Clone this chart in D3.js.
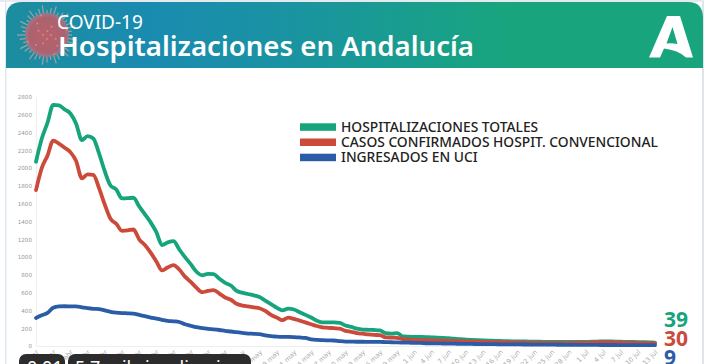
<!DOCTYPE html>
<html lang="es">
<head>
  <meta charset="UTF-8">
  <title>Hospitalizaciones en Andalucía</title>
  <script src="https://cdn.jsdelivr.net/npm/d3@7"></script>
  <style>
    html, body { margin: 0; padding: 0; background: #fff; overflow: hidden; }
    svg { display: block; font-family: "Noto Sans", sans-serif; }
    .tick text { font-family: "DejaVu Sans", sans-serif; }
    .tick line { display: none; }
    .domain { stroke: #efefef; }
  </style>
</head>
<body>
  <script>
    // one value per day, 27 mar to 13 jul
    const totales = [2072,2330,2510,2712,2705,2660,2615,2500,2315,2360,2334,2165,1965,1805,1760,1660,1662,1667,1570,1480,1390,1280,1135,1165,1180,1085,1000,920,835,795,812,808,755,710,680,620,600,585,570,550,510,470,430,400,420,410,380,350,320,285,265,265,265,260,230,215,195,185,182,180,175,145,140,145,108,105,103,102,100,97,95,92,88,82,76,72,68,65,62,60,58,56,54,53,52,51,50,49,48,47,46,46,45,45,46,46,47,48,50,52,51,50,48,47,46,44,43,41,39];
    const convencional = [1753,2000,2140,2310,2275,2230,2180,2080,1885,1930,1925,1775,1590,1430,1375,1295,1300,1310,1200,1135,1050,950,850,885,910,860,780,720,655,605,620,628,590,545,520,475,455,445,435,425,395,350,320,290,318,305,285,265,245,225,210,205,200,195,170,160,145,138,130,125,122,98,95,92,78,72,70,68,66,64,62,60,58,56,54,52,50,48,46,45,44,43,42,41,40,39,38,37,36,36,35,35,35,36,36,37,38,40,42,44,43,42,40,38,36,34,33,32,30];
    const uci = [315,345,372,430,445,447,446,445,435,425,418,415,400,385,375,370,368,365,350,335,320,308,295,283,278,270,245,228,212,200,192,187,180,170,163,155,147,140,137,133,120,110,106,103,102,100,96,90,75,68,65,63,62,55,50,49,48,48,47,46,46,44,42,40,38,37,36,35,31,30,29,28,27,26,25,24,23,22,21,20,20,19,19,18,18,17,17,16,16,15,15,14,14,13,13,13,12,12,12,11,11,11,10,10,10,10,9,9,9];

    const tickLabels = ["27 mar","30 mar","2 abr","5 abr","8 abr","11 abr","14 abr","17 abr","20 abr","23 abr","26 abr","29 abr","2 may","5 may","8 may","11 may","14 may","17 may","20 may","23 may","26 may","29 may","1 jun","4 jun","7 jun","10 jun","13 jun","16 jun","19 jun","22 jun","25 jun","28 jun","1 jul","4 jul","7 jul","10 jul","13 jul"];
    const yTicks = [0,200,400,600,800,1000,1200,1400,1600,1800,2000,2200,2400,2600,2800];

    const seriesNames = ["HOSPITALIZACIONES TOTALES","CASOS CONFIRMADOS HOSPIT. CONVENCIONAL","INGRESADOS EN UCI"];
    const seriesColors = ["#16a47c","#cc4a3a","#2a5ca8"];
    const lastValues = ["39","30","9"];

    const w = 704, h = 364;
    const svg = d3.select("body").append("svg").attr("width", w).attr("height", h);
    const defs = svg.append("defs");

    const grad = defs.append("linearGradient").attr("id", "head");
    grad.append("stop").attr("offset", "0").attr("stop-color", "#1c8d9e");
    grad.append("stop").attr("offset", "0.2").attr("stop-color", "#1a8bb0");
    grad.append("stop").attr("offset", "0.38").attr("stop-color", "#1a92a4");
    grad.append("stop").attr("offset", "0.72").attr("stop-color", "#18a57e");
    grad.append("stop").attr("offset", "1").attr("stop-color", "#18a57e");

    const ball = defs.append("radialGradient").attr("id", "ball");
    ball.append("stop").attr("offset", "0").attr("stop-color", "#b8626c");
    ball.append("stop").attr("offset", "0.8").attr("stop-color", "#ad626f");
    ball.append("stop").attr("offset", "1").attr("stop-color", "#9a7a8c");

    defs.append("filter").attr("id", "soft")
      .append("feGaussianBlur").attr("stdDeviation", 0.7);

    // page edges
    svg.append("rect").attr("x", 5).attr("y", 0).attr("width", 1.5).attr("height", h).attr("fill", "#dfe7f0");
    svg.append("rect").attr("x", 702).attr("y", 0).attr("width", 2).attr("height", h).attr("fill", "#dfe3ea");
    svg.append("rect").attr("x", 0).attr("y", 0).attr("width", w).attr("height", 2).attr("fill", "#e6eaef");

    // header band
    svg.append("path")
      .attr("d", "M6 68V18Q6 2 22 2H688Q703 2 703 18V68Z")
      .attr("fill", "url(#head)");

    // virus picture
    const virus = svg.append("g").attr("transform", "translate(47,35)").attr("filter", "url(#soft)");
    d3.range(0, 360, 9).forEach((a, i) => {
      const r = a * Math.PI / 180, end = 25 + (i % 3) * 2.5;
      virus.append("line")
        .attr("x1", 18 * Math.cos(r)).attr("y1", 18 * Math.sin(r))
        .attr("x2", end * Math.cos(r)).attr("y2", end * Math.sin(r))
        .attr("stroke", "#c9aba4").attr("stroke-width", 1.2).attr("opacity", 0.75);
    });
    virus.append("circle").attr("r", 22).attr("fill", "url(#ball)");
    d3.range(0, 360, 23).forEach((a, i) => {
      const r = a * Math.PI / 180, rad = 4 + (i % 4) * 5.5;
      virus.append("circle")
        .attr("cx", rad * Math.cos(r)).attr("cy", rad * Math.sin(r))
        .attr("r", 1).attr("fill", "#cf8a8c");
    });

    svg.append("text").attr("x", 57).attr("y", 28.5)
      .attr("font-size", 19).attr("fill", "#fff").text("COVID-19");
    svg.append("text").attr("x", 58).attr("y", 56)
      .attr("font-size", 27.6).attr("font-weight", 600).attr("fill", "#fff")
      .text("Hospitalizaciones en Andalucía");

    // Junta logo
    svg.append("path")
      .attr("d", "M667 16H680L693 57.5H686Q678 50 664 48.5L660 57.5H649ZM672.5 27L666.5 43.5Q672 43 677.5 44Z")
      .attr("fill-rule", "evenodd")
      .attr("fill", "#fff");

    // chart
    const x = d3.scaleLinear().domain([0, 108]).range([36, 655]);
    const y = d3.scaleLinear().domain([0, 2800]).range([346, 97]);

    svg.append("g")
      .attr("transform", "translate(0,346)")
      .call(d3.axisBottom(x).tickValues(d3.range(0, 109, 3)).tickFormat(i => tickLabels[i / 3]).tickSizeOuter(0))
      .call(g => g.selectAll("text")
        .attr("font-size", 6.6)
        .attr("fill", "#ababab")
        .attr("text-anchor", "end")
        .attr("x", 0).attr("y", 0).attr("dy", "0.35em")
        .attr("transform", "translate(1,5) rotate(-45)"));

    svg.append("g")
      .attr("transform", "translate(36,0)")
      .call(d3.axisLeft(y).tickValues(yTicks).tickFormat(d => d).tickSizeOuter(0))
      .call(g => g.selectAll("text").attr("font-size", 5.6).attr("fill", "#999").attr("x", -4));

    const line = d3.line()
      .x((d, i) => x(i))
      .y(d => y(d))
      .curve(d3.curveMonotoneX);

    [totales, convencional, uci].forEach((s, i) => {
      svg.append("path")
        .attr("d", line(s))
        .attr("fill", "none")
        .attr("stroke", seriesColors[i])
        .attr("stroke-width", 3.8)
        .attr("stroke-linejoin", "round")
        .attr("stroke-linecap", "round");
    });

    // legend
    seriesNames.forEach((n, i) => {
      svg.append("rect").attr("x", 300).attr("y", 123.3 + i * 15.2)
        .attr("width", 36).attr("height", 7.5).attr("fill", seriesColors[i]);
      svg.append("text").attr("x", 341).attr("y", 131.5 + i * 15.2)
        .attr("font-size", 13.8).attr("font-weight", 500).attr("fill", "#222")
        .text(n);
    });

    // last values on the right
    lastValues.forEach((v, i) => {
      svg.append("text").attr("x", 664).attr("y", 327 + i * 18.8)
        .attr("font-size", 21).attr("font-weight", 700).attr("fill", seriesColors[i])
        .text(v);
    });

    // player overlay, cut by the bottom of the screenshot
    svg.append("rect").attr("x", 19).attr("y", 354).attr("width", 46).attr("height", 24).attr("rx", 7).attr("fill", "#2c2c2c");
    svg.append("rect").attr("x", 68).attr("y", 354).attr("width", 183).attr("height", 24).attr("rx", 7).attr("fill", "#2c2c2c");
    svg.append("text").attr("x", 27).attr("y", 374).attr("font-size", 18).attr("fill", "#fff").text("0:01");
    svg.append("text").attr("x", 75).attr("y", 374).attr("font-size", 18).attr("fill", "#fff").text("5.7 mil visualizaciones");
  </script>
</body>
</html>
